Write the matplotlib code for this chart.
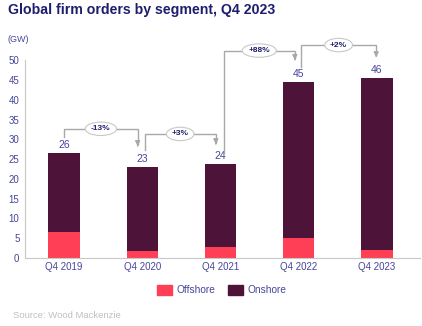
import matplotlib
matplotlib.use("Agg")
import matplotlib.pyplot as plt
from matplotlib.patches import Patch

plt.rcParams['font.family'] = ['Liberation Sans', 'DejaVu Sans']

categories = ["Q4 2019", "Q4 2020", "Q4 2021", "Q4 2022", "Q4 2023"]
offshore = [6.5, 1.8, 2.8, 5.1, 2.0]
totals = [26.5, 23.1, 23.7, 44.6, 45.6]
onshore = [t - o for t, o in zip(totals, offshore)]
total_labels = ["26", "23", "24", "45", "46"]
changes = ["-13%", "+3%", "+88%", "+2%"]

C_OFF = "#FF3F55"
C_ON = "#4E1339"
C_TXT = "#45459A"
C_TITLE = "#1E1E6E"
C_LINE = "#A8A8A8"

fig = plt.figure(figsize=(4.22, 3.26), dpi=100)
ax = fig.add_axes([25/422, 1-258/326, 395/422, (258-40.7)/326])

x = list(range(len(categories)))
w = 0.40
ax.bar(x, offshore, width=w, color=C_OFF, zorder=2)
ax.bar(x, onshore, width=w, bottom=offshore, color=C_ON, edgecolor="none", zorder=2)

for i, (t, lab) in enumerate(zip(totals, total_labels)):
    ax.text(i, t + 0.8, lab, ha="center", va="bottom", fontsize=7.5, color=C_TXT)

# connector annotations: (x_start, y_start, y_level, x_end, y_tip)
conns = [
    (0.0, 30.6, 32.7, 0.94, 27.6),
    (1.03, 27.3, 31.4, 1.94, 28.1),
    (2.04, 26.6, 52.5, 2.95, 49.4),
    (3.03, 48.4, 53.9, 3.99, 50.1),
]
for (xs, ys, yl, xe, yt), lab in zip(conns, changes):
    ax.plot([xs, xs, xe, xe], [ys, yl, yl, yt + 1.2], color=C_LINE, lw=1.0,
            clip_on=False, zorder=3, solid_joinstyle="miter")
    ax.annotate("", xy=(xe, yt), xytext=(xe, yt + 1.6),
                arrowprops=dict(arrowstyle="-|>", color=C_LINE, lw=1.0,
                                mutation_scale=7), annotation_clip=False)
    ax.text((xs + xe) / 2, yl, lab, ha="center", va="center", fontsize=6,
            fontweight="bold", color=C_TITLE, zorder=4,
            bbox=dict(boxstyle="ellipse,pad=0.15", fc="white",
                      ec="#C8C8C8", lw=0.8))

ax.set_xlim(-0.5, 4.55)
ax.set_ylim(0, 55)
ax.set_yticks(range(0, 51, 5))
ax.set_xticks(x)
ax.set_xticklabels(categories)
ax.tick_params(axis="both", labelsize=7, colors=C_TXT, length=0, pad=4)
ax.tick_params(axis="x", pad=3)
for s in ["top", "right"]:
    ax.spines[s].set_visible(False)
ax.spines["left"].set_bounds(0, 50)
ax.spines["left"].set_color("#C8C8C8")
ax.spines["bottom"].set_color("#C8C8C8")
ax.set_facecolor("none")

fig.text(8/422, 1-10/326, "Global firm orders by segment, Q4 2023", fontsize=10.2,
         fontweight="bold", color=C_TITLE, ha="left", va="center")
fig.text(7/422, 1-40/326, "(GW)", fontsize=6.5, color=C_TXT, ha="left", va="center")

handles = [Patch(color=C_OFF, label="Offshore"), Patch(color=C_ON, label="Onshore")]
fig.legend(handles=handles, loc="center", bbox_to_anchor=(222/422, 1-290/326), ncol=2,
           frameon=False, fontsize=7.3, handlelength=1.5, handleheight=1.1,
           columnspacing=1.2, handletextpad=0.45, labelcolor=C_TXT)

fig.text(13/422, 1-315/326, "Source: Wood Mackenzie", fontsize=6.8, color="#C0C0C0",
         ha="left", va="center")

fig.savefig("out.png", dpi=100)
